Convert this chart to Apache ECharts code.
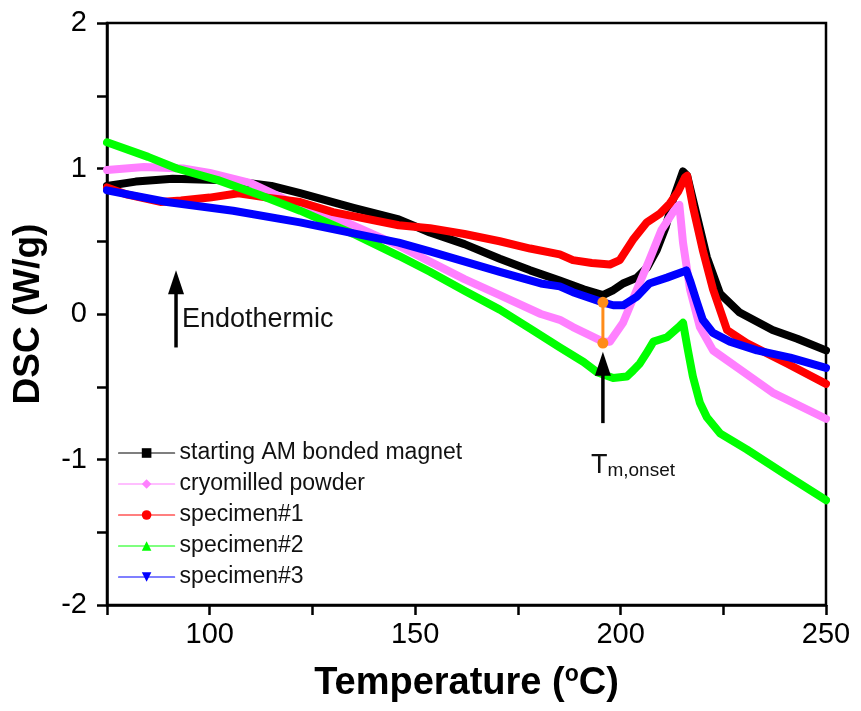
<!DOCTYPE html>
<html>
<head>
<meta charset="utf-8">
<script src="https://cdn.jsdelivr.net/npm/echarts@6/dist/echarts.min.js"></script>
<style>
html,body{margin:0;padding:0;background:#fff;}
#c{width:861px;height:711px;}
</style>
</head>
<body>
<div id="c"></div>
<script>
// ---- data ----
const seriesNames = ['starting AM bonded magnet', 'cryomilled powder', 'specimen#1', 'specimen#2', 'specimen#3'];

const blackT = [75, 82, 91, 104, 115, 122, 135, 146, 153.6, 162, 170.6, 178, 185.2, 191, 195.7, 198, 200.6, 204, 206.5, 208.8, 211, 212.7, 215.2, 216.2, 218.6, 221, 224.2, 229, 237, 243, 250];
const blackV = [0.88, 0.91, 0.93, 0.92, 0.88, 0.83, 0.73, 0.65, 0.56, 0.48, 0.38, 0.30, 0.23, 0.17, 0.13, 0.16, 0.21, 0.25, 0.32, 0.44, 0.60, 0.78, 0.98, 0.95, 0.67, 0.39, 0.14, 0.01, -0.11, -0.17, -0.25];

const pinkT = [75, 84, 93.5, 100, 110, 122, 130, 146, 153.6, 162, 170.6, 180.6, 185.2, 188.4, 195.7, 197.4, 200.6, 204, 207, 210, 213.7, 214.3, 215.2, 216.9, 219.3, 222.5, 229, 237, 250];
const pinkV = [0.99, 1.01, 1.00, 0.97, 0.90, 0.74, 0.67, 0.47, 0.36, 0.24, 0.13, 0.00, -0.04, -0.09, -0.19, -0.19, -0.06, 0.17, 0.37, 0.58, 0.74, 0.75, 0.49, 0.17, -0.09, -0.25, -0.38, -0.54, -0.72];

const redT = [75, 80, 88, 93, 100, 107, 114, 122, 130, 146, 153.6, 162, 170.6, 178, 185.2, 188.4, 193, 197.4, 199.8, 203, 206.4, 209.6, 212, 214, 215.7, 216.2, 217.6, 220, 222.5, 225.9, 230.7, 240.5, 250];
const redV = [0.87, 0.82, 0.77, 0.78, 0.80, 0.83, 0.80, 0.77, 0.70, 0.61, 0.59, 0.55, 0.50, 0.45, 0.41, 0.37, 0.35, 0.34, 0.37, 0.51, 0.63, 0.69, 0.76, 0.84, 0.94, 0.95, 0.74, 0.44, 0.17, -0.11, -0.20, -0.34, -0.48];

const greenT = [75, 85, 92, 102, 112, 122, 135, 146, 153.6, 162, 170.6, 178, 185.2, 191, 194.3, 198.2, 201.5, 203, 204.7, 206.5, 208, 211.3, 214.5, 215.2, 216.4, 217.6, 219.3, 221, 224.2, 230.7, 240, 250];
const greenV = [1.18, 1.08, 1.00, 0.92, 0.82, 0.71, 0.55, 0.40, 0.29, 0.16, 0.03, -0.10, -0.23, -0.33, -0.40, -0.44, -0.43, -0.39, -0.34, -0.26, -0.19, -0.16, -0.08, -0.06, -0.25, -0.43, -0.61, -0.71, -0.82, -0.93, -1.10, -1.28];

const blueT = [75, 89.6, 105.7, 122, 146, 153.6, 170.6, 180.6, 185.2, 188.4, 195.7, 198.2, 200.6, 204, 207, 211.3, 215.2, 216, 216.9, 218.6, 220, 222.5, 226.6, 233.2, 241.3, 250];
const blueV = [0.85, 0.77, 0.71, 0.63, 0.49, 0.43, 0.29, 0.21, 0.19, 0.15, 0.08, 0.06, 0.06, 0.12, 0.21, 0.25, 0.29, 0.30, 0.23, 0.08, -0.04, -0.13, -0.19, -0.25, -0.30, -0.37];

// onset marker (orange segment) and annotation arrows in data units
const onsetT = [195.7, 195.7];
const onsetV = [0.08, -0.20];
const endoArrow = {x: 91.8, from: -0.23, to: 0.30};
const tmArrow = {x: 195.7, from: -0.75, to: -0.26};

const xTicks = [100, 150, 200, 250];
const yTicks = [-2, -1, 0, 1, 2];

// ---- chart ----
const colors = ['#000000', '#FF80FF', '#FF0000', '#00FF00', '#0000FF'];
const symbols = ['rect', 'diamond', 'circle', 'triangle', 'path://M0,0 L10,0 L5,9 Z'];
const zip = (a, b) => a.map((v, i) => [v, b[i]]);
const datasets = [zip(blackT, blackV), zip(pinkT, pinkV), zip(redT, redV), zip(greenT, greenV), zip(blueT, blueV)];

const chart = echarts.init(document.getElementById('c'), null, {renderer: 'canvas'});
const FONT = 'Liberation Sans, Arial, sans-serif';

const series = seriesNames.map((n, i) => ({
  name: n,
  type: 'line',
  data: datasets[i],
  showSymbol: false,
  symbol: symbols[i],
  symbolSize: 9,
  smooth: false,
  color: colors[i],
  lineStyle: {width: 8, color: colors[i], cap: 'round', join: 'round'},
  itemStyle: {color: colors[i]},
  z: 2 + i,
  animation: false
}));
series.push({
  name: 'onset',
  type: 'line',
  data: zip(onsetT, onsetV),
  symbol: 'circle',
  symbolSize: 11,
  showSymbol: true,
  color: '#FF8C1A',
  lineStyle: {width: 3, color: '#FF8C1A'},
  itemStyle: {color: '#FF8C1A'},
  z: 10,
  animation: false
});

chart.setOption({
  backgroundColor: '#fff',
  animation: false,
  grid: {left: 107, right: 35, top: 23, bottom: 106, show: true, borderColor: '#000', borderWidth: 2.5, backgroundColor: 'transparent'},
  legend: {
    data: seriesNames,
    orient: 'vertical',
    left: 118,
    top: 440,
    itemWidth: 56,
    itemHeight: 12,
    itemGap: 5,
    padding: 0,
    lineStyle: {width: 1.2},
    textStyle: {fontFamily: FONT, fontSize: 23, color: '#111', lineHeight: 26},
    selectedMode: false
  },
  xAxis: {
    type: 'value', min: 75, max: 250, interval: 25,
    axisLine: {show: true, onZero: false, lineStyle: {color: '#000', width: 2.5}},
    axisTick: {show: true, length: 10, lineStyle: {color: '#000', width: 2.5}},
    splitLine: {show: false},
    axisLabel: {
      margin: 15, fontSize: 29, color: '#000', fontFamily: FONT,
      formatter: v => xTicks.indexOf(v) >= 0 ? String(v) : ''
    },
    name: '{b|Temperature (}{s|o}{b|C)}',
    nameLocation: 'middle',
    nameGap: 58,
    nameTextStyle: {
      rich: {
        b: {fontFamily: FONT, fontSize: 38, fontWeight: 'bold', color: '#000'},
        s: {fontFamily: FONT, fontSize: 23, fontWeight: 'bold', color: '#000', verticalAlign: 'top', padding: [0, 0, 18, 0]}
      }
    }
  },
  yAxis: {
    type: 'value', min: -2, max: 2, interval: 0.5,
    axisLine: {show: true, onZero: false, lineStyle: {color: '#000', width: 2.5}},
    axisTick: {show: true, length: 10, lineStyle: {color: '#000', width: 2.5}},
    splitLine: {show: false},
    axisLabel: {
      margin: 20, fontSize: 29, color: '#000', fontFamily: FONT,
      formatter: v => yTicks.indexOf(v) >= 0 ? String(v) : ''
    },
    name: 'DSC (W/g)',
    nameLocation: 'middle',
    nameGap: 60,
    nameTextStyle: {fontFamily: FONT, fontSize: 37, fontWeight: 'bold', color: '#000'}
  },
  series: series
});

function arrow(x, y0, y1) {
  const p0 = chart.convertToPixel({gridIndex: 0}, [x, y0]);
  const p1 = chart.convertToPixel({gridIndex: 0}, [x, y1]);
  const headH = 24, headW = 8;
  return [
    {type: 'line', shape: {x1: p0[0], y1: p0[1], x2: p1[0], y2: p1[1] + headH - 2}, style: {stroke: '#000', lineWidth: 3.5}, z: 20},
    {type: 'polygon', shape: {points: [[p1[0], p1[1]], [p1[0] - headW, p1[1] + headH], [p1[0] + headW, p1[1] + headH]]}, style: {fill: '#000'}, z: 20}
  ];
}

const ea = arrow(endoArrow.x, endoArrow.from, endoArrow.to);
const ta = arrow(tmArrow.x, tmArrow.from, tmArrow.to);
const endoBase = chart.convertToPixel({gridIndex: 0}, [endoArrow.x, endoArrow.from]);
const tmBase = chart.convertToPixel({gridIndex: 0}, [tmArrow.x, tmArrow.from]);

chart.setOption({
  graphic: [].concat(ea, ta, [
    {type: 'text', x: endoBase[0] + 6, y: endoBase[1] - 28, style: {text: 'Endothermic', font: '27px Liberation Sans, Arial, sans-serif', fill: '#111', textVerticalAlign: 'middle'}, z: 20},
    {type: 'text', x: tmBase[0] - 12, y: tmBase[1] + 42, style: {
      text: '{t|T}{s|m,onset}',
      rich: {
        t: {fontFamily: FONT, fontSize: 27, fill: '#111'},
        s: {fontFamily: FONT, fontSize: 19, fill: '#111', verticalAlign: 'bottom', padding: [12, 0, 0, 0]}
      },
      textVerticalAlign: 'middle'
    }, z: 20}
  ])
});
</script>
</body>
</html>
